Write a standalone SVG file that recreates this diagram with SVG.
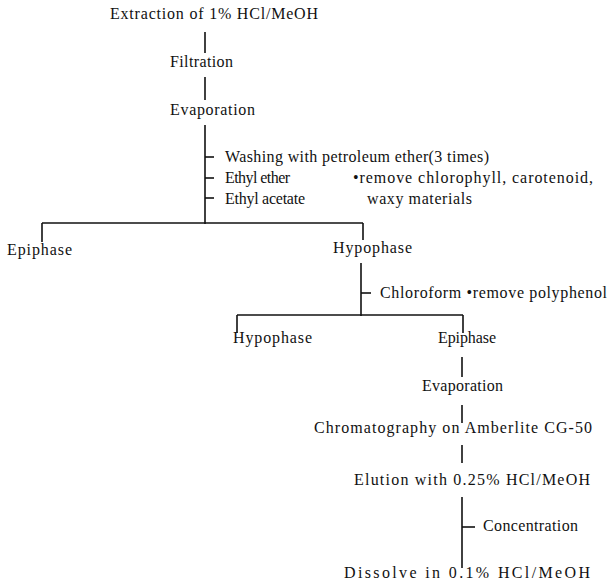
<svg xmlns="http://www.w3.org/2000/svg" width="610" height="584" viewBox="0 0 610 584">
<style>
text{font-family:"Liberation Serif","Times New Roman",serif;font-size:16px;fill:#111}
.c line{stroke:#111;stroke-width:1.6;fill:none}
</style>
<rect width="610" height="584" fill="#fff"/>
<g class="c" id="connectors">
<line x1="205" y1="32" x2="205" y2="53"/>
<line x1="205" y1="77" x2="205" y2="100"/>
<line x1="205" y1="125" x2="205" y2="224"/>
<line x1="205" y1="157" x2="214" y2="157"/>
<line x1="205" y1="178" x2="214" y2="178"/>
<line x1="205" y1="198" x2="214" y2="198"/>
<line x1="42" y1="223" x2="363" y2="223"/>
<line x1="42" y1="223" x2="42" y2="242"/>
<line x1="363" y1="223" x2="363" y2="240"/>
<line x1="361" y1="263" x2="361" y2="316"/>
<line x1="361" y1="293" x2="371" y2="293"/>
<line x1="237" y1="315" x2="463" y2="315"/>
<line x1="237" y1="315" x2="237" y2="333"/>
<line x1="463" y1="315" x2="463" y2="333"/>
<line x1="462" y1="357" x2="462" y2="377"/>
<line x1="462" y1="405" x2="462" y2="423"/>
<line x1="462" y1="445" x2="462" y2="463"/>
<line x1="462" y1="497" x2="462" y2="568"/>
<line x1="462" y1="527" x2="475" y2="527"/>
</g>
<g id="n1"><text x="110" y="19" textLength="208" lengthAdjust="spacing">Extraction of 1% HCl/MeOH</text></g>
<g id="n2"><text x="170" y="67" textLength="63" lengthAdjust="spacing">Filtration</text></g>
<g id="n3"><text x="170" y="115" textLength="85" lengthAdjust="spacing">Evaporation</text></g>
<g id="n4">
<text x="225" y="162" textLength="264" lengthAdjust="spacing">Washing with petroleum ether(3 times)</text>
<text x="225" y="183" textLength="65" lengthAdjust="spacing">Ethyl ether</text>
<text x="353" y="183" textLength="240" lengthAdjust="spacing">•remove chlorophyll, carotenoid,</text>
<text x="225" y="204" textLength="80" lengthAdjust="spacing">Ethyl acetate</text>
<text x="367" y="204" textLength="105" lengthAdjust="spacing">waxy materials</text>
</g>
<g id="n5"><text x="7" y="255" textLength="65" lengthAdjust="spacing">Epiphase</text></g>
<g id="n6"><text x="333" y="253" textLength="79" lengthAdjust="spacing">Hypophase</text></g>
<g id="n7"><text x="380" y="298" textLength="227" lengthAdjust="spacing">Chloroform •remove polyphenol</text></g>
<g id="n8"><text x="233" y="343" textLength="79" lengthAdjust="spacing">Hypophase</text></g>
<g id="n9"><text x="438" y="343" textLength="58" lengthAdjust="spacing">Epiphase</text></g>
<g id="n10"><text x="422" y="391" textLength="81" lengthAdjust="spacing">Evaporation</text></g>
<g id="n11"><text x="314" y="433" textLength="278" lengthAdjust="spacing">Chromatography on Amberlite CG-50</text></g>
<g id="n12"><text x="354" y="485" textLength="236" lengthAdjust="spacing">Elution with 0.25% HCl/MeOH</text></g>
<g id="n13"><text x="483" y="531" textLength="95" lengthAdjust="spacing">Concentration</text></g>
<g id="n14"><text x="344" y="578" textLength="246" lengthAdjust="spacing">Dissolve in 0.1% HCl/MeOH</text></g>
</svg>
